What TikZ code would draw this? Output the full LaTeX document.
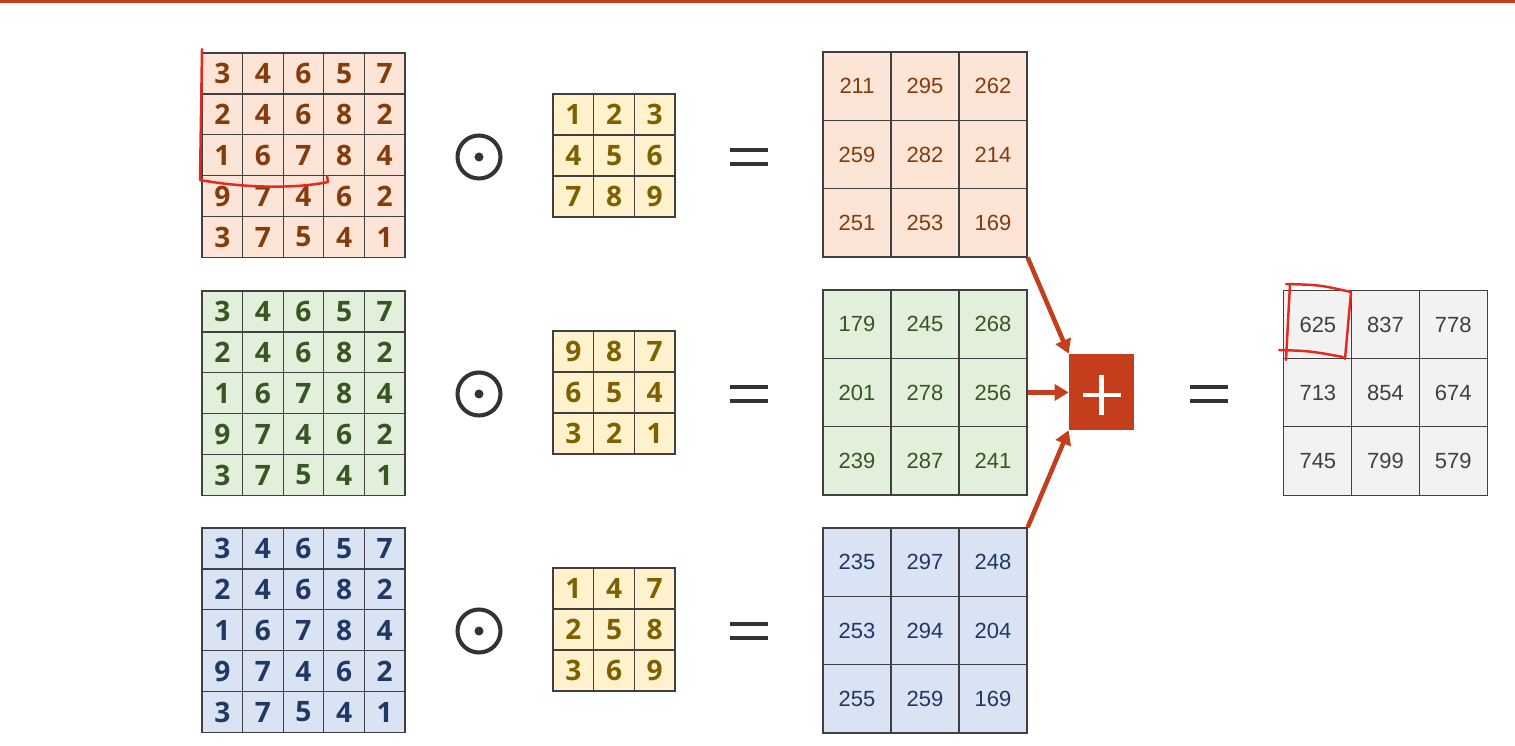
\documentclass[tikz,border=0pt]{standalone}
\usepackage{fontspec}
\setmainfont{Liberation Sans}
\newfontfamily\digitfont{Open Sans}
\usepackage{tikz}
\usetikzlibrary{arrows.meta,calc}
\definecolor{accent}{HTML}{C43E1C}
\definecolor{penred}{HTML}{E8281E}
\definecolor{gridline}{HTML}{404040}
\definecolor{optx}{HTML}{333333}
\definecolor{redbg}{HTML}{FCE4D6}
\definecolor{redtx}{HTML}{843C0C}
\definecolor{grnbg}{HTML}{E2EFDA}
\definecolor{grntx}{HTML}{375623}
\definecolor{blubg}{HTML}{DAE3F3}
\definecolor{blutx}{HTML}{1F3864}
\definecolor{kerbg}{HTML}{FFF2CC}
\definecolor{kertx}{HTML}{7F6000}
\definecolor{sumbg}{HTML}{F2F2F2}
\definecolor{sumtx}{HTML}{404040}

\begin{document}
\begin{tikzpicture}[
    x=0.02cm, y=-0.02cm,
    cell/.style={draw=gridline, line width=0.7pt, inner sep=0pt, minimum width=0.812cm, minimum height=0.818cm, font=\digitfont\bfseries\fontsize{16}{18}\selectfont},
    bigcell/.style={draw=gridline, line width=0.7pt, inner sep=0pt, minimum width=1.36cm, minimum height=1.366cm, font=\fontsize{12.5}{14}\selectfont},
    opcirc/.style={circle, draw=optx, line width=2.3pt, minimum size=0.86cm, inner sep=0pt},
    eqbar/.style={draw=optx, line width=2.3pt},
    plusbox/.style={fill=accent, minimum width=1.3cm, minimum height=1.52cm, inner sep=0pt},
    arr/.style={draw=accent, line width=2.6pt, -{Triangle[length=2.8mm, width=3.2mm]}},
    pen/.style={draw=penred, line width=1.4pt, line cap=round, line join=round}
]
    \useasboundingbox (0,0) rectangle (1515,746);
    \fill[accent] (0,0) rectangle (1515,3.5);

    % input channels
    \foreach \k/\yy/\bg/\tx in {1/53/redbg/redtx, 2/291/grnbg/grntx, 3/528/blubg/blutx} {
        \foreach \row [count=\i] in {{3,4,6,5,7},{2,4,6,8,2},{1,6,7,8,4},{9,7,4,6,2},{3,7,5,4,1}} {
            \foreach \v [count=\j] in \row {
                \node[cell, fill=\bg, text=\tx] (in\k-\i-\j) at ({202+40.6*(\j-0.5)},{\yy+40.9*(\i-0.5)}) {\v};
            }
        }
    }

    % kernels
    \foreach \row [count=\i] in {{1,2,3},{4,5,6},{7,8,9}} {
        \foreach \v [count=\j] in \row {
            \node[cell, fill=kerbg, text=kertx] (ker1-\i-\j) at ({553+40.7*(\j-0.5)},{94+41*(\i-0.5)}) {\v};
        }
    }
    \foreach \row [count=\i] in {{9,8,7},{6,5,4},{3,2,1}} {
        \foreach \v [count=\j] in \row {
            \node[cell, fill=kerbg, text=kertx] (ker2-\i-\j) at ({553+40.7*(\j-0.5)},{331+41*(\i-0.5)}) {\v};
        }
    }
    \foreach \row [count=\i] in {{1,4,7},{2,5,8},{3,6,9}} {
        \foreach \v [count=\j] in \row {
            \node[cell, fill=kerbg, text=kertx] (ker3-\i-\j) at ({553+40.7*(\j-0.5)},{568+41*(\i-0.5)}) {\v};
        }
    }

    % odot and equals signs
    \foreach \k/\yy in {1/157, 2/394, 3/631} {
        \node[opcirc] (dot\k) at (479,\yy) {};
        \fill[optx] (dot\k.center) circle (4.5);
        \coordinate (eq\k) at (749,\yy);
        \draw[eqbar] ($(eq\k)+(-19,-7)$) -- ($(eq\k)+(19,-7)$);
        \draw[eqbar] ($(eq\k)+(-19,7)$) -- ($(eq\k)+(19,7)$);
    }

    % per-channel outputs
    \foreach \row [count=\i] in {{211,295,262},{259,282,214},{251,253,169}} {
        \foreach \v [count=\j] in \row {
            \node[bigcell, fill=redbg, text=redtx] (out1-\i-\j) at ({823+68*(\j-0.5)},{52+68.3*(\i-0.5)}) {\v};
        }
    }
    \foreach \row [count=\i] in {{179,245,268},{201,278,256},{239,287,241}} {
        \foreach \v [count=\j] in \row {
            \node[bigcell, fill=grnbg, text=grntx] (out2-\i-\j) at ({823+68*(\j-0.5)},{290+68.3*(\i-0.5)}) {\v};
        }
    }
    \foreach \row [count=\i] in {{235,297,248},{253,294,204},{255,259,169}} {
        \foreach \v [count=\j] in \row {
            \node[bigcell, fill=blubg, text=blutx] (out3-\i-\j) at ({823+68*(\j-0.5)},{528+68.3*(\i-0.5)}) {\v};
        }
    }

    % sum
    \node[plusbox] (plus) at (1101.5,392) {};
    \draw[white, line width=2.6pt] ($(plus.center)+(-19,3)$) -- ($(plus.center)+(19,3)$);
    \draw[white, line width=2.6pt] ($(plus.center)+(0,-17)$) -- ($(plus.center)+(0,23)$);
    \draw[arr] (out1-3-3.south east) -- (plus.north west);
    \draw[arr] (out2-2-3.east) -- (out2-2-3.east -| plus.west);
    \draw[arr] (out3-1-3.north east) -- (plus.south west);

    \coordinate (eq4) at (1209,394);
    \draw[eqbar] ($(eq4)+(-19,-7)$) -- ($(eq4)+(19,-7)$);
    \draw[eqbar] ($(eq4)+(-19,7)$) -- ($(eq4)+(19,7)$);

    \foreach \row [count=\i] in {{625,837,778},{713,854,674},{745,799,579}} {
        \foreach \v [count=\j] in \row {
            \node[bigcell, fill=sumbg, text=sumtx] (sum-\i-\j) at ({1284+67.7*(\j-0.5)},{291+68*(\i-0.5)}) {\v};
        }
    }

    % hand marks
    \draw[pen] (202,49) -- (200,180) .. controls (250,189) and (300,188) .. (328,182) -- (327,176);
    \draw[pen] (1290,284) -- (1286,360);
    \draw[pen] (1286,284) .. controls (1320,285) .. (1351,292) -- (1345,359);
    \draw[pen] (1279,350) .. controls (1310,351) .. (1343,357);
\end{tikzpicture}
\end{document}
